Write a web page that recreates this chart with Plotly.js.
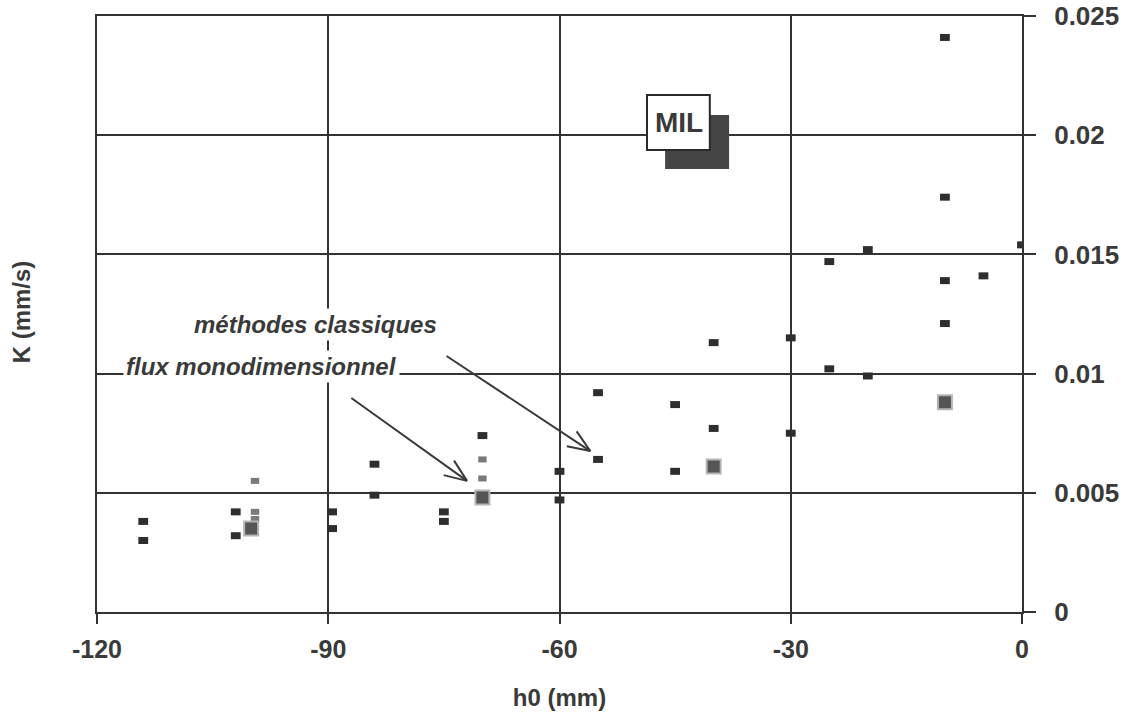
<!DOCTYPE html>
<html>
<head>
<meta charset="utf-8">
<script src="https://cdn.plot.ly/plotly-3.0.1.min.js"></script>
<style>html,body{margin:0;padding:0;background:#fff;}#chart{width:1137px;height:715px;}</style>
</head>
<body>
<div id="chart"></div>
<script>
// méthodes classiques (dark dashes)
var classiquesH0 = [-114, -114, -102, -102, -89.5, -89.5, -84, -84, -75, -75, -70, -60, -60, -55, -55, -45, -45, -40, -40, -30, -30, -25, -25, -20, -20, -10, -10, -10, -10, -5, 0];
var classiquesK  = [0.0038, 0.0030, 0.0042, 0.0032, 0.0042, 0.0035, 0.0062, 0.0049, 0.0042, 0.0038, 0.0074, 0.0059, 0.0047, 0.0092, 0.0064, 0.0087, 0.0059, 0.0113, 0.0077, 0.0115, 0.0075, 0.0147, 0.0102, 0.0152, 0.0099, 0.0241, 0.0174, 0.0139, 0.0121, 0.0141, 0.0154];
// small grey marks
var grisH0 = [-99.5, -99.5, -99.5, -70, -70];
var grisK  = [0.0055, 0.0042, 0.0039, 0.0064, 0.0056];
// flux monodimensionnel (checkered squares)
var fluxH0 = [-100, -70, -40, -10];
var fluxK  = [0.0035, 0.0048, 0.0061, 0.0088];

var xTicks = [-120, -90, -60, -30, 0];
var xTickText = ['-120', '-90', '-60', '-30', '0'];
var yTicks = [0, 0.005, 0.01, 0.015, 0.02, 0.025];
var yTickText = ['0', '0.005', '0.01', '0.015', '0.02', '0.025'];

var ink = '#3a3a3a';
var fam = '"Liberation Sans", Arial, sans-serif';

var traces = [
  {x: classiquesH0, y: classiquesK, type: 'scatter', mode: 'markers', name: 'méthodes classiques',
   marker: {symbol: 'line-ew', size: 7, color: '#2e2e2e', line: {color: '#2e2e2e', width: 7}}},
  {x: grisH0, y: grisK, type: 'scatter', mode: 'markers', name: 'gris',
   marker: {symbol: 'line-ew', size: 6, color: '#7a7a7a', line: {color: '#7a7a7a', width: 6}}},
  {x: fluxH0, y: fluxK, type: 'scatter', mode: 'markers', name: 'flux monodimensionnel',
   marker: {symbol: 'square', size: 14, color: '#555555', line: {color: '#b5b5b5', width: 2}}}
];

// pixel scale helpers for arrow heads
var plotW = 925, plotH = 596;
var sx = plotW / 120, sy = plotH / 0.025;
function vHead(tail, tip, len, ang) {
  var dx = (tip[0] - tail[0]) * sx, dy = -(tip[1] - tail[1]) * sy;
  var a = Math.atan2(dy, dx);
  var res = [];
  [ang, -ang].forEach(function (d) {
    var b = a + Math.PI + d;
    var px = Math.cos(b) * len, py = Math.sin(b) * len;
    res.push({type: 'line', xref: 'x', yref: 'y', x0: tip[0], y0: tip[1],
      x1: tip[0] + px / sx, y1: tip[1] - py / sy, line: {color: ink, width: 2}});
  });
  return res;
}
var arrow1 = {tail: [-74.85, 0.01078], tip: [-56.0, 0.00675]};
var arrow2 = {tail: [-87.2, 0.00902], tip: [-72.0, 0.00550]};

var shapes = [
  {type: 'rect', xref: 'x', yref: 'y', x0: -46.3, x1: -38.0, y0: 0.01858, y1: 0.02085, fillcolor: '#454545', line: {width: 0}},
  {type: 'rect', xref: 'x', yref: 'y', x0: -48.65, x1: -40.5, y0: 0.01938, y1: 0.02169, fillcolor: '#ffffff', line: {color: '#2a2a2a', width: 2}}
].concat(vHead(arrow1.tail, arrow1.tip, 24, 0.38)).concat(vHead(arrow2.tail, arrow2.tip, 24, 0.38));

var annotations = [
  {x: arrow1.tip[0], y: arrow1.tip[1], ax: arrow1.tail[0], ay: arrow1.tail[1], axref: 'x', ayref: 'y', xref: 'x', yref: 'y',
   text: '', showarrow: true, arrowhead: 0, arrowwidth: 2, arrowcolor: ink},
  {x: arrow2.tip[0], y: arrow2.tip[1], ax: arrow2.tail[0], ay: arrow2.tail[1], axref: 'x', ayref: 'y', xref: 'x', yref: 'y',
   text: '', showarrow: true, arrowhead: 0, arrowwidth: 2, arrowcolor: ink},
  {x: -91.6, y: 0.01204, xref: 'x', yref: 'y', text: '<b><i>méthodes classiques</i></b>', showarrow: false,
   font: {family: fam, size: 24, color: ink}, bgcolor: '#ffffff', borderpad: 2},
  {x: -98.6, y: 0.01028, xref: 'x', yref: 'y', text: '<b><i>flux monodimensionnel</i></b>', showarrow: false,
   font: {family: fam, size: 24, color: ink}, bgcolor: '#ffffff', borderpad: 2},
  {x: -44.55, y: 0.02055, xref: 'x', yref: 'y', text: '<b>MIL</b>', showarrow: false,
   font: {family: fam, size: 28, color: ink}},
  {x: -0.082, y: 0.503, xref: 'paper', yref: 'paper', xanchor: 'center', yanchor: 'middle',
   text: '<b>K (mm/s)</b>', textangle: -90, showarrow: false,
   font: {family: fam, size: 24, color: ink}}
];

var layout = {
  width: 1137, height: 715,
  margin: {l: 97, r: 115, t: 16, b: 103},
  paper_bgcolor: '#ffffff', plot_bgcolor: '#ffffff',
  showlegend: false,
  font: {family: fam, color: ink},
  xaxis: {
    range: [-120, 0], tickvals: xTicks, ticktext: xTickText,
    showgrid: true, gridcolor: '#333333', gridwidth: 2,
    showline: true, linecolor: '#333333', linewidth: 2, mirror: true,
    zeroline: false, ticks: 'outside', ticklen: 10, tickwidth: 2, tickcolor: '#333333',
    ticklabelstandoff: 4,
    tickfont: {family: fam, size: 25, color: ink, weight: 'bold'},
    title: {text: '<b>h0 (mm)</b>', font: {family: fam, size: 24, color: ink}, standoff: 27}
  },
  yaxis: {
    range: [0, 0.025], side: 'right', tickvals: yTicks, ticktext: yTickText,
    showgrid: true, gridcolor: '#333333', gridwidth: 2,
    showline: true, linecolor: '#333333', linewidth: 2, mirror: true,
    zeroline: false, ticks: 'outside', ticklen: 12, tickwidth: 2, tickcolor: '#333333',
    ticklabelstandoff: 13,
    tickfont: {family: fam, size: 26, color: ink, weight: 'bold'}
  },
  shapes: shapes,
  annotations: annotations
};

Plotly.newPlot('chart', traces, layout, {displayModeBar: false, staticPlot: true});
</script>
</body>
</html>
